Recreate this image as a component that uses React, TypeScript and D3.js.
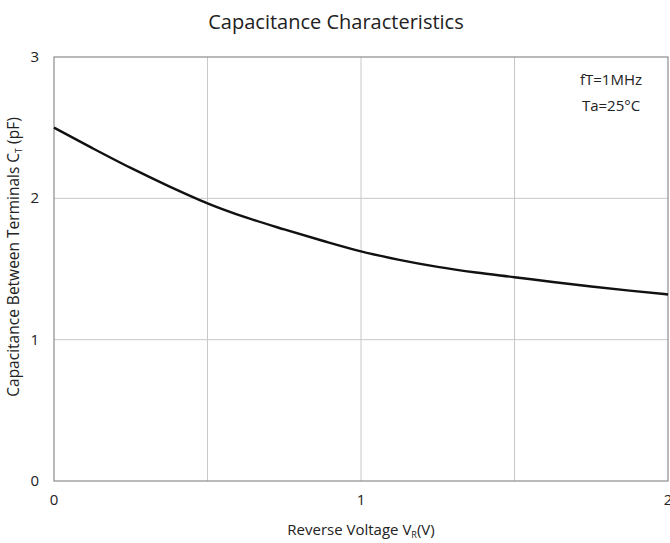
import React from 'react';
import * as d3 from 'd3';

// Reverse voltage (V) vs capacitance between terminals (pF)
const voltage = [0, 0.125, 0.25, 0.375, 0.5, 0.625, 0.75, 0.875, 1, 1.125, 1.25, 1.375, 1.5, 1.625, 1.75, 1.875, 2];
const capacitance = [2.5, 2.355, 2.215, 2.085, 1.965, 1.865, 1.78, 1.7, 1.625, 1.565, 1.515, 1.475, 1.442, 1.408, 1.376, 1.347, 1.32];
const xTicks = [0, 1, 2];
const yTicks = [0, 1, 2, 3];
const xGrid = [0.5, 1, 1.5];
const yGrid = [1, 2];
const notes = ['fT=1MHz', 'Ta=25°C'];

const W = 670;
const H = 543;
const m = { top: 57, right: 2, bottom: 62, left: 54 };
const font = '"Open Sans", "Noto Sans", sans-serif';

export default function App() {
  const x = d3.scaleLinear().domain([0, 2]).range([m.left, W - m.right]);
  const y = d3.scaleLinear().domain([0, 3]).range([H - m.bottom, m.top]);
  const line = d3.line<number>()
    .x((_, i) => x(voltage[i]))
    .y(d => y(d))
    .curve(d3.curveMonotoneX);

  return (
    <svg width={W} height={H} style={{ position: 'absolute', left: 0, top: 0, fontFamily: font }}>
      <rect width={W} height={H} fill="#fff" />
      <text x={336} y={29} textAnchor="middle" fontSize={20} fill="#222">Capacitance Characteristics</text>

      {/* grid */}
      {xGrid.map(v => (
        <line key={'gx' + v} x1={x(v)} x2={x(v)} y1={y(0)} y2={y(3)} stroke="#c8c8c8" strokeWidth={1} />
      ))}
      {yGrid.map(v => (
        <line key={'gy' + v} x1={x(0)} x2={x(2)} y1={y(v)} y2={y(v)} stroke="#c8c8c8" strokeWidth={1} />
      ))}
      <rect x={x(0)} y={y(3)} width={x(2) - x(0)} height={y(0) - y(3)} fill="none" stroke="#8c8c8c" strokeWidth={1.2} />

      {/* ticks */}
      {yTicks.map(v => (
        <text key={'ty' + v} x={39} y={y(v) + 5} textAnchor="end" fontSize={15} fill="#222">{v}</text>
      ))}
      {xTicks.map(v => (
        <text key={'tx' + v} x={x(v)} y={505} textAnchor="middle" fontSize={15} fill="#222">{v}</text>
      ))}

      <path d={line(capacitance) || ''} fill="none" stroke="#111" strokeWidth={2.4} />

      {notes.map((t, i) => (
        <text key={t} x={611} y={85 + i * 26} textAnchor="middle" fontSize={15} fill="#222">{t}</text>
      ))}

      <text x={361} y={535} textAnchor="middle" fontSize={15} fill="#222">
        Reverse Voltage V<tspan fontSize={9} dy={3}>R</tspan><tspan dy={-3}>(V)</tspan>
      </text>
      <text transform={`translate(19,${257}) rotate(-90)`} textAnchor="middle" fontSize={15.5} fill="#222">
        Capacitance Between Terminals C<tspan fontSize={9} dy={3}>T</tspan><tspan dy={-3}> (pF)</tspan>
      </text>
    </svg>
  );
}
